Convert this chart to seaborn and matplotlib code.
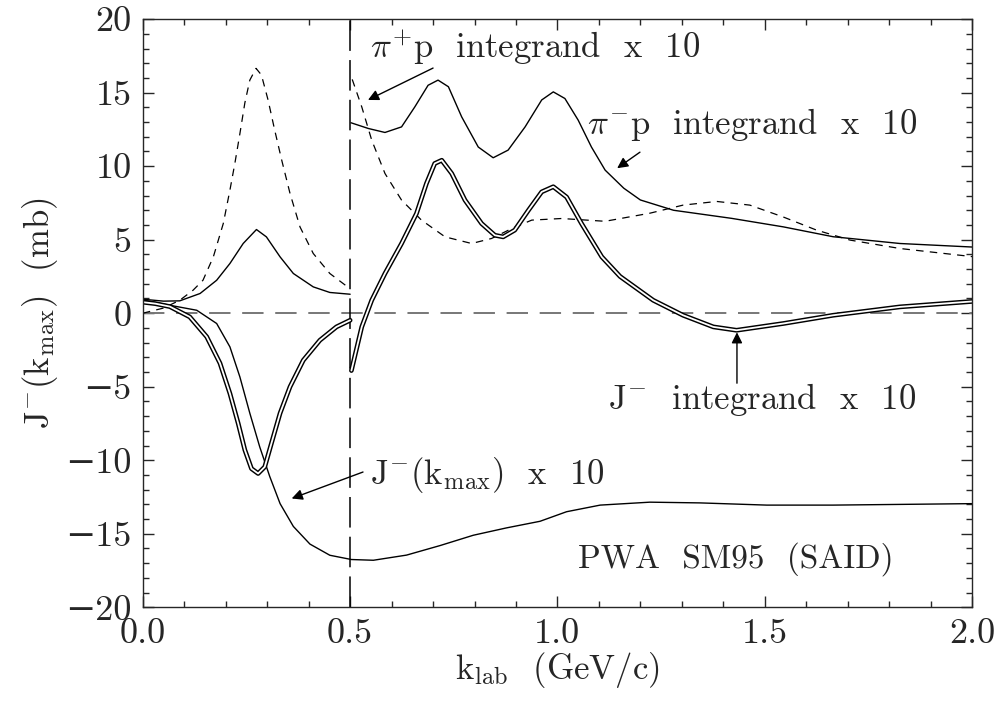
import numpy as np
import pandas as pd
import matplotlib
matplotlib.use("Agg")
import matplotlib.pyplot as plt
import seaborn as sns
from matplotlib.ticker import MultipleLocator

# pi+ p integrand x 10 (dashed), two branches split at k = 0.5
pip_x1 = [0.0, 0.05, 0.089, 0.121, 0.145, 0.17, 0.194, 0.21, 0.222, 0.234, 0.246, 0.258, 0.273, 0.286,
          0.302, 0.318, 0.335, 0.355, 0.379, 0.411, 0.451, 0.499]
pip_y1 = [0.0, 0.35, 0.88, 1.56, 2.24, 3.83, 6.1, 8.37, 10.2, 12.2, 14.3, 15.85, 16.65, 16.2,
          14.5, 12.45, 10.4, 8.14, 5.87, 4.06, 2.7, 1.68]
pip_x2 = [0.505, 0.528, 0.552, 0.584, 0.624, 0.672, 0.729, 0.793, 0.841, 0.89, 0.938, 1.01, 1.115,
          1.223, 1.303, 1.384, 1.464, 1.544, 1.625, 1.706, 1.826, 2.0]
pip_y2 = [15.9, 14.03, 11.77, 9.5, 7.69, 6.33, 5.19, 4.74, 5.08, 5.76, 6.33, 6.44, 6.25,
          6.8, 7.35, 7.6, 7.35, 6.55, 5.65, 4.97, 4.4, 3.85]

# pi- p integrand x 10 (solid)
pim_x1 = [0.0, 0.05, 0.089, 0.138, 0.178, 0.21, 0.242, 0.274, 0.298, 0.331, 0.363, 0.411, 0.451, 0.5]
pim_y1 = [0.95, 0.82, 0.84, 1.34, 2.24, 3.38, 4.74, 5.69, 5.19, 3.83, 2.7, 1.79, 1.41, 1.29]
pim_x2 = [0.502, 0.544, 0.584, 0.624, 0.656, 0.688, 0.712, 0.737, 0.769, 0.809, 0.845, 0.881, 0.922,
          0.962, 0.99, 1.018, 1.05, 1.082, 1.115, 1.16, 1.2, 1.28, 1.42, 1.545, 1.665, 1.826, 2.0]
pim_y2 = [12.95, 12.56, 12.29, 12.67, 14.03, 15.5, 15.85, 15.4, 13.35, 11.3, 10.57, 11.09, 12.67,
          14.5, 15.05, 14.6, 13.13, 11.3, 9.73, 8.5, 7.7, 7.0, 6.45, 5.87, 5.2, 4.74, 4.5]

# J- integrand x 10 (double line)
ji_x1 = [0.0, 0.03, 0.065, 0.113, 0.154, 0.186, 0.21, 0.23, 0.246, 0.262, 0.278, 0.294, 0.31, 0.331,
         0.355, 0.387, 0.427, 0.467, 0.5]
ji_y1 = [0.75, 0.65, 0.45, -0.25, -1.6, -3.4, -5.46, -7.5, -9.3, -10.57, -10.9, -10.45, -8.86, -6.8,
         -5.0, -3.2, -1.84, -0.93, -0.48]
ji_x2 = [0.503, 0.528, 0.552, 0.584, 0.624, 0.66, 0.684, 0.704, 0.721, 0.745, 0.777, 0.817, 0.849,
         0.869, 0.897, 0.93, 0.962, 0.99, 1.022, 1.058, 1.107, 1.151, 1.231, 1.303, 1.376, 1.432,
         1.545, 1.665, 1.826, 2.0]
ji_y2 = [-3.9, -0.93, 0.88, 2.7, 4.74, 6.78, 8.82, 10.18, 10.4, 9.5, 7.69, 6.1, 5.3,
         5.19, 5.65, 7.0, 8.25, 8.6, 7.9, 6.1, 3.83, 2.5, 0.88, -0.14, -0.93, -1.16,
         -0.7, -0.14, 0.43, 0.8]

# J-(k_max) x 10 (solid, continuous)
jk_x = [0.0, 0.065, 0.13, 0.178, 0.21, 0.234, 0.258, 0.282, 0.306, 0.331, 0.363, 0.403, 0.451, 0.503,
        0.556, 0.636, 0.717, 0.797, 0.877, 0.958, 1.022, 1.103, 1.223, 1.344, 1.505, 1.665, 2.0]
jk_y = [0.9, 0.54, 0.2, -0.7, -2.29, -4.33, -6.8, -9.1, -11.1, -12.95, -14.5, -15.7, -16.46, -16.75,
        -16.8, -16.45, -15.8, -15.1, -14.6, -14.15, -13.5, -13.05, -12.85, -12.9, -13.05, -13.05, -12.95]


def segments(*pairs):
    frames = []
    for i, (xs, ys) in enumerate(pairs):
        frames.append(pd.DataFrame({'k': xs, 'val': ys, 'seg': i}))
    return pd.concat(frames, ignore_index=True)


def main():
    sns.set_style("ticks")
    plt.rcParams['font.family'] = ['cmr10', 'DejaVu Serif']
    plt.rcParams['mathtext.fontset'] = 'cm'
    plt.rcParams['axes.formatter.use_mathtext'] = True
    plt.rcParams['axes.unicode_minus'] = True

    fig, ax = plt.subplots(figsize=(9.99, 7.07), dpi=100)
    fig.subplots_adjust(left=0.143, right=0.973, top=0.973, bottom=0.141)

    # reference lines
    ax.axhline(0, color='#777777', lw=1.4, linestyle=(0, (11, 6)), zorder=1)
    ax.axvline(0.5, color='black', lw=1.1, linestyle=(0, (20, 6)), zorder=1)

    df_pip = segments((pip_x1, pip_y1), (pip_x2, pip_y2))
    df_pim = segments((pim_x1, pim_y1), (pim_x2, pim_y2))
    df_ji = segments((ji_x1, ji_y1), (ji_x2, ji_y2))
    df_jk = segments((jk_x, jk_y))

    sns.lineplot(data=df_pip, x='k', y='val', units='seg', estimator=None, sort=False,
                 color='black', lw=0.9, linestyle=(0, (6, 5)), ax=ax)
    sns.lineplot(data=df_pim, x='k', y='val', units='seg', estimator=None, sort=False,
                 color='black', lw=1.0, ax=ax)
    sns.lineplot(data=df_jk, x='k', y='val', units='seg', estimator=None, sort=False,
                 color='black', lw=1.0, ax=ax)
    # double line: thick black with white core
    sns.lineplot(data=df_ji, x='k', y='val', units='seg', estimator=None, sort=False,
                 color='black', lw=3.4, ax=ax)
    sns.lineplot(data=df_ji, x='k', y='val', units='seg', estimator=None, sort=False,
                 color='white', lw=1.3, ax=ax)

    fs = 25
    arrow = dict(arrowstyle='-|>', color='black', lw=1.0, mutation_scale=16, shrinkA=0, shrinkB=0)

    ax.text(0.548, 18.1, r'$\pi^{+}$p  integrand  x  10', fontsize=fs, va='center', ha='left')
    ax.annotate('', xy=(0.543, 14.5), xytext=(0.700, 16.67), arrowprops=arrow)

    ax.text(1.071, 12.8, r'$\pi^{-}$p  integrand  x  10', fontsize=fs, va='center', ha='left')
    ax.annotate('', xy=(1.144, 9.86), xytext=(1.199, 10.95), arrowprops=arrow)

    ax.text(1.122, -5.9, r'J$^{-}$  integrand  x  10', fontsize=fs, va='center', ha='left')
    ax.annotate('', xy=(1.433, -1.3), xytext=(1.433, -4.76), arrowprops=arrow)

    ax.text(0.548, -11.0, r'J$^{-}$(k$_{\rm max}$)  x  10', fontsize=fs, va='center', ha='left')
    ax.annotate('', xy=(0.359, -12.6), xytext=(0.531, -10.8), arrowprops=arrow)

    ax.text(1.049, -16.7, 'PWA  SM95  (SAID)', fontsize=fs - 1, va='center', ha='left')

    ax.set_xlim(0, 2)
    ax.set_ylim(-20, 20)
    ax.xaxis.set_major_locator(MultipleLocator(0.5))
    ax.xaxis.set_minor_locator(MultipleLocator(0.1))
    ax.yaxis.set_major_locator(MultipleLocator(5))
    ax.yaxis.set_minor_locator(MultipleLocator(1))
    ax.xaxis.set_major_formatter(plt.FuncFormatter(lambda v, p: f'{v:.1f}'))
    ax.yaxis.set_major_formatter(plt.FuncFormatter(lambda v, p: f'{v:.0f}'.replace('-', '\u2212')))
    ax.tick_params(which='both', direction='in', top=True, right=True, width=1.0, labelsize=26, pad=8)
    ax.tick_params(which='major', length=8)
    ax.tick_params(which='minor', length=4)
    for s in ax.spines.values():
        s.set_linewidth(1.0)

    ax.set_xlabel(r'k$_{\rm lab}$  (GeV/c)', fontsize=25, labelpad=0)
    ax.set_ylabel(r'J$^{-}$(k$_{\rm max}$)  (mb)', fontsize=25, labelpad=4)

    fig.savefig('out.png', dpi=100)


if __name__ == "__main__":
    main()
